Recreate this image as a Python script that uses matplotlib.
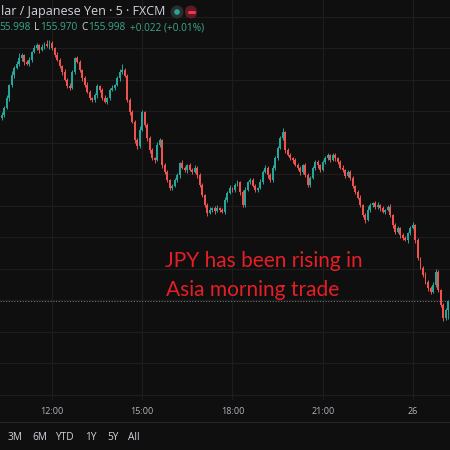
import matplotlib
matplotlib.use('Agg')
import matplotlib.pyplot as plt
from matplotlib.transforms import blended_transform_factory
from matplotlib.patches import Circle, FancyBboxPatch
import numpy as np

# ---------------- data (5-minute USD/JPY candles) ----------------
closes = [
    156.294, 156.305, 156.321, 156.341, 156.357, 156.368, 156.375, 156.384, 156.389, 156.378,
    156.375, 156.381, 156.394, 156.400, 156.405, 156.397, 156.402, 156.406, 156.403, 156.408,
    156.400, 156.389, 156.381, 156.371, 156.362, 156.349, 156.340, 156.337, 156.362, 156.384,
    156.378, 156.365, 156.352, 156.341, 156.330, 156.321, 156.317, 156.325, 156.340, 156.333,
    156.321, 156.314, 156.321, 156.333, 156.337, 156.341, 156.352, 156.362, 156.365, 156.356,
    156.317, 156.298, 156.283, 156.254, 156.244, 156.270, 156.298, 156.278, 156.257, 156.238,
    156.225, 156.222, 156.246, 156.254, 156.214, 156.203, 156.190, 156.178, 156.181, 156.190,
    156.198, 156.217, 156.210, 156.206, 156.214, 156.206, 156.203, 156.210, 156.198, 156.183,
    156.167, 156.151, 156.138, 156.143, 156.146, 156.141, 156.146, 156.143, 156.140, 156.159,
    156.170, 156.178, 156.175, 156.183, 156.187, 156.171, 156.151, 156.175, 156.187, 156.190,
    156.181, 156.175, 156.178, 156.187, 156.203, 156.210, 156.198, 156.190, 156.210, 156.225,
    156.241, 156.257, 156.267, 156.238, 156.230, 156.225, 156.222, 156.214, 156.210, 156.203,
    156.214, 156.198, 156.183, 156.194, 156.210, 156.219, 156.214, 156.206, 156.219, 156.225,
    156.230, 156.222, 156.230, 156.225, 156.219, 156.210, 156.206, 156.197, 156.203, 156.194,
    156.181, 156.171, 156.162, 156.151, 156.135, 156.127, 156.143, 156.151, 156.154, 156.148,
    156.151, 156.146, 156.140, 156.143, 156.148, 156.135, 156.119, 156.108, 156.114, 156.103,
    156.098, 156.095, 156.106, 156.114, 156.119, 156.095, 156.067, 156.051, 156.040, 156.029,
    156.019, 156.013, 156.024, 156.044, 156.016, 155.992, 155.971, 155.984, 155.998,
]
# wick lengths beyond the body, in thousandths of a yen
upper_wick = [
    4, 3, 5, 2, 6, 3, 4, 8, 3, 2,
    3, 4, 2, 5, 3, 2, 4, 3, 6, 4,
    3, 2, 4, 3, 2, 5, 3, 4, 3, 2,
    4, 3, 2, 3, 5, 3, 2, 4, 3, 2,
    3, 5, 2, 3, 4, 2, 3, 4, 9, 3,
    2, 3, 4, 2, 3, 6, 4, 2, 3, 4,
    3, 2, 5, 3, 2, 3, 4, 2, 3, 3,
    4, 2, 6, 3, 2, 4, 3, 5, 2, 3,
    3, 2, 3, 4, 2, 3, 5, 2, 3, 4,
    3, 5, 2, 3, 4, 2, 3, 4, 2, 3,
    4, 3, 2, 5, 3, 4, 2, 3, 4, 3,
    3, 4, 6, 2, 3, 4, 2, 3, 4, 3,
    2, 3, 4, 3, 2, 4, 3, 2, 3, 4,
    3, 2, 4, 3, 2, 3, 4, 2, 3, 4,
    3, 2, 3, 4, 2, 3, 6, 3, 2, 3,
    4, 2, 3, 2, 3, 4, 2, 3, 4, 2,
    3, 4, 2, 3, 5, 2, 3, 2, 3, 4,
    2, 3, 4, 5, 3, 2, 3, 4, 2,
]
lower_wick = [
    3, 4, 2, 5, 3, 4, 2, 3, 4, 5,
    2, 3, 4, 2, 3, 5, 2, 3, 2, 4,
    3, 4, 2, 3, 5, 2, 3, 4, 2, 3,
    2, 3, 4, 3, 2, 4, 3, 2, 5, 3,
    4, 2, 3, 4, 2, 3, 2, 4, 3, 2,
    3, 4, 2, 5, 4, 3, 2, 3, 4, 5,
    3, 4, 2, 3, 4, 3, 2, 4, 3, 2,
    3, 4, 2, 3, 4, 2, 3, 2, 4, 3,
    4, 3, 5, 2, 3, 4, 2, 3, 2, 4,
    3, 2, 4, 3, 2, 5, 4, 3, 2, 3,
    2, 3, 4, 2, 3, 2, 4, 3, 2, 3,
    3, 2, 3, 4, 2, 3, 4, 2, 3, 4,
    3, 2, 4, 3, 2, 3, 4, 3, 2, 3,
    2, 3, 2, 4, 3, 2, 3, 4, 2, 3,
    4, 3, 2, 3, 4, 5, 2, 3, 4, 3,
    3, 4, 2, 3, 2, 4, 5, 3, 2, 4,
    3, 2, 4, 3, 2, 5, 3, 2, 4, 3,
    4, 3, 2, 3, 4, 3, 5, 2, 14,
]
first_open = 156.289
start_hour = 10 + 20 / 60      # first candle 10:20
bar_hours = 5 / 60
time_ticks = [12, 15, 18, 21, 24]
time_labels = ['12:00', '15:00', '18:00', '21:00', '26']
grid_prices = [155.85, 155.90, 155.95, 156.00, 156.05, 156.10, 156.15,
               156.20, 156.25, 156.30, 156.35, 156.40, 156.45]
last_price = 155.998
range_buttons = ['3M', '6M', 'YTD', '1Y', '5Y', 'All']
header_title = 'lar / Japanese Yen · 5 · FXCM'
header_values = [('55.998', True), ('L', False), ('155.970', True), ('C', False),
                 ('155.998', True), ('+0.022 (+0.01%)', True)]
annotation_lines = ['JPY has been rising in', 'Asia morning trade']

# ---------------- style ----------------
BG = '#0f0f0f'
UP = '#26a69a'
DOWN = '#ef5350'
GRID = '#1d1d1d'
TXT = '#d1d4dc'
AXT = '#b2b5be'
GREEN_TXT = '#3fa58c'
RED_TXT = '#e61e26'

W = H = 450
fig = plt.figure(figsize=(4.5, 4.5), dpi=100, facecolor=BG)
ax = fig.add_axes([0, 50 / H, 1, 400 / H], facecolor=BG)

x_left = 12 - 52 / 30.08
x_right = 12 + 398 / 30.08
ax.set_xlim(x_left, x_right)
ax.set_ylim(156 - 100 / 630, 156 + 300 / 630)
for s in ax.spines.values():
    s.set_visible(False)
ax.set_xticks([])
ax.set_yticks([])

for t in time_ticks:
    ax.axvline(t, color=GRID, lw=0.9, zorder=0)
for p in grid_prices:
    ax.axhline(p, color=GRID, lw=0.9, zorder=0)

closes_a = np.array(closes)
opens_a = np.array([first_open] + closes[:-1])
times = start_hour + np.arange(len(closes)) * bar_hours
up_mask = closes_a >= opens_a
cols = np.where(up_mask, UP, DOWN)
body_lo = np.minimum(opens_a, closes_a)
body_hi = np.maximum(opens_a, closes_a)
highs = body_hi + np.array(upper_wick) / 1000
lows = body_lo - np.array(lower_wick) / 1000
heights = np.maximum(body_hi - body_lo, 0.0008)

ax.vlines(times, lows, highs, colors=cols, lw=0.7, zorder=2)
ax.bar(times, heights, bottom=body_lo, width=bar_hours * 0.78, color=cols,
       linewidth=0, zorder=3)

# last price dotted line
ax.axhline(last_price, color='#6a6d74', lw=0.8, ls=(0, (1, 1.5)), zorder=1)

# ---------------- overlay in pixel coordinates ----------------
ov = fig.add_axes([0, 0, 1, 1], facecolor='none', zorder=5)
ov.set_xlim(0, W)
ov.set_ylim(H, 0)
ov.axis('off')

# time axis labels
tr = blended_transform_factory(ax.transData, ov.transData)
for t, lab in zip(time_ticks, time_labels):
    ov.text(t, 411, lab, transform=tr, ha='center', va='center',
            color=AXT, fontsize=6.5, family='Open Sans')

# separator and range buttons
ov.plot([0, W], [422, 422], color='#262626', lw=0.8)
btn_x = [8, 32, 55, 85, 107, 128]
for bx, lab in zip(btn_x, range_buttons):
    ov.text(bx, 438, lab, ha='left', va='center', color=TXT,
            fontsize=7.3, family='Open Sans')

# header
ov.text(1, 12, header_title, ha='left', va='center', color=TXT,
        fontsize=9.0, family='Open Sans')
ov.add_patch(Circle((177, 12), 6.5, color='#2a2e2d', lw=0))
ov.add_patch(Circle((177, 12), 2.8, color=UP, lw=0))
ov.add_patch(FancyBboxPatch((185, 5.5), 12, 13, boxstyle='round,pad=0,rounding_size=6.5',
                            color='#5b1c28', lw=0))
ov.plot([188.5, 194], [12, 12], color='#f23645', lw=2.2, solid_capstyle='round')

# OHLC values line: chain pieces one after another
renderer = fig.canvas.get_renderer()
gaps = [0, 4, 0.5, 4, 0.5, 4]
cur = -1.0
for gap, (txt, green) in zip(gaps, header_values):
    cur += gap
    tt = ov.text(cur, 28, txt, ha='left', va='center',
                 color=GREEN_TXT if green else TXT, fontsize=7.3, family='Open Sans')
    bb = tt.get_window_extent(renderer=renderer)
    cur += bb.width  # 1 px per data unit in overlay

# annotation
ov.text(165, 267, annotation_lines[0], ha='left', va='baseline', color=RED_TXT,
        fontsize=15, family='Lato')
ov.text(166, 296, annotation_lines[1], ha='left', va='baseline', color=RED_TXT,
        fontsize=15, family='Lato')

fig.savefig('out.png', dpi=100, facecolor=BG)
